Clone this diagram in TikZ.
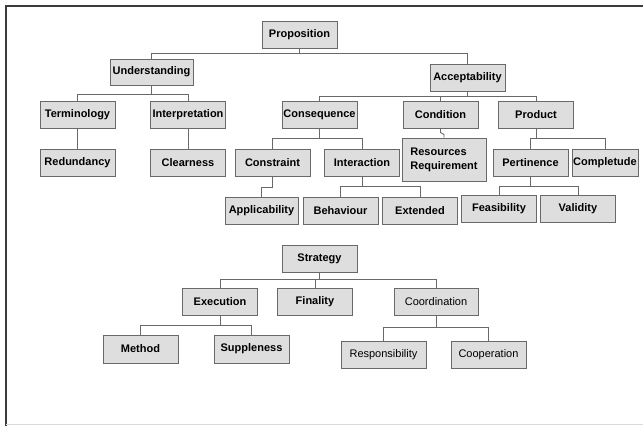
\documentclass[tikz,border=0pt]{standalone}
\usepackage{fontspec}
\setmainfont{Liberation Sans}
\definecolor{BoxFill}{RGB}{222, 222, 222}
\definecolor{BoxLine}{RGB}{105, 105, 105}
\definecolor{FrameLine}{RGB}{60, 60, 60}

\begin{document}
\begin{tikzpicture}[x=1pt, y=-1pt,
    box/.style={draw=BoxLine, fill=BoxFill, line width=0.9pt, minimum width=75pt,
      minimum height=27pt, inner sep=1pt, font=\bfseries\fontsize{11}{12}\selectfont},
    lightbox/.style={box, font=\fontsize{11}{12}\selectfont},
    link/.style={draw=BoxLine, line width=0.9pt}]
          \useasboundingbox (0,0) rectangle (643,426);
          \draw[FrameLine, line width=1.5pt] (6,426) -- (6,6) -- (643,6);
          \draw[gray!30, line width=1pt] (6,424.5) -- (643,424.5);
          % first tree
          \node[box] (prop) at (299.5,34.5) {Proposition};
          \node[box, minimum width=83pt, minimum height=26pt] (und) at (151.5,72) {Understanding};
          \node[box] (acc) at (467.5,77.5) {Acceptability};
          \node[box] (term) at (77.5,114.5) {Terminology};
          \node[box] (interp) at (188,114.5) {Interpretation};
          \node[box] (cons) at (319.5,114.5) {Consequence};
          \node[box] (cond) at (440.5,114.5) {Condition};
          \node[box] (prod) at (536,114.5) {Product};
          \node[box] (red) at (77.5,162.5) {Redundancy};
          \node[box] (clear) at (188,162.5) {Clearness};
          \node[box] (constr) at (272.5,162.5) {Constraint};
          \node[box] (inter) at (362,162.5) {Interaction};
          \node[box, minimum width=84pt, minimum height=43pt, align=left] (res) at (444,159.5) {Resources\\[2pt]Requirement};
          \node[box] (pert) at (530.5,162.5) {Pertinence};
          \node[box, minimum width=66pt] (compl) at (605,162.5) {Completude};
          \node[box, minimum width=73pt] (appl) at (261.5,210.5) {Applicability};
          \node[box] (behav) at (340.5,210.5) {Behaviour};
          \node[box] (ext) at (420,210.5) {Extended};
          \node[box] (feas) at (499,208.5) {Feasibility};
          \node[box] (valid) at (578,208.5) {Validity};
          \draw[link] (prop.south) -- ++(0,5) -| (und.north);
          \draw[link] (prop.south) -- ++(0,5) -| (acc.north);
          \draw[link] (und.south) -- ++(0,9) -| (term.north);
          \draw[link] (und.south) -- ++(0,9) -| (interp.north);
          \draw[link] (term) -- (red);
          \draw[link] (interp) -- (clear);
          \draw[link] (acc.south) -- ++(0,5) -| (cons.north);
          \draw[link] (acc.south) -- ++(0,5) -| (cond.north);
          \draw[link] (acc.south) -- ++(0,5) -| (prod.north);
          \draw[link] (cons.south) -- ++(0,10) -| (constr.north);
          \draw[link] (cons.south) -- ++(0,10) -| (inter.north);
          \draw[link] (cond.south) -- ++(0,4) -- ([yshift=3pt]res.north) -- (res.north);
          \draw[link] (prod.south) -- ++(0,10) -| (pert.north);
          \draw[link] (prod.south) -- ++(0,10) -| (compl.north);
          \draw[link] (constr.south) -- ++(0,11) -| (appl.north);
          \draw[link] (inter.south) -- ++(0,10) -| (behav.north);
          \draw[link] (inter.south) -- ++(0,10) -| (ext.north);
          \draw[link] (pert.south) -- ++(0,10) -| (feas.north);
          \draw[link] (pert.south) -- ++(0,10) -| (valid.north);
          % second tree
          \node[box] (strat) at (319.5,258.5) {Strategy};
          \node[box] (exec) at (220,301.5) {Execution};
          \node[box] (final) at (315,301.5) {Finality};
          \node[lightbox, minimum width=84pt] (coord) at (436,301.5) {Coordination};
          \node[box, minimum height=28pt] (meth) at (140.5,349) {Method};
          \node[box, minimum height=28pt] (supp) at (251.5,349) {Suppleness};
          \node[lightbox, minimum width=85pt] (resp) at (383.5,354.5) {Responsibility};
          \node[lightbox] (coop) at (488.5,354.5) {Cooperation};
          \draw[link] (strat.south) -- ++(0,7) -| (exec.north);
          \draw[link] (strat.south) -- ++(0,7) -| (final.north);
          \draw[link] (strat.south) -- ++(0,7) -| (coord.north);
          \draw[link] (exec.south) -- ++(0,10) -| (meth.north);
          \draw[link] (exec.south) -- ++(0,10) -| (supp.north);
          \draw[link] (coord.south) -- ++(0,12) -| (resp.north);
          \draw[link] (coord.south) -- ++(0,12) -| (coop.north);
        \end{tikzpicture}
\end{document}
